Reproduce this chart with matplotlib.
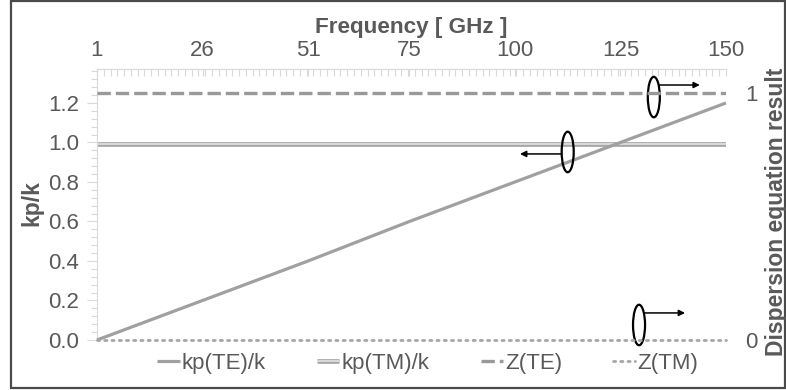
import numpy as np
import matplotlib
matplotlib.use("Agg")
import matplotlib.pyplot as plt
from matplotlib.patches import Ellipse, Rectangle
from matplotlib.ticker import FixedLocator, MultipleLocator

plt.rcParams["font.family"] = ["Liberation Sans", "DejaVu Sans"]

# ---- data -------------------------------------------------------------
freq = [1, 26, 51, 75, 100, 125, 150]                 # GHz
kp_te = [0.0, 0.2, 0.4, 0.6, 0.8, 1.0, 1.2]            # kp(TE)/k
kp_tm = [0.99, 0.99, 0.99, 0.99, 0.99, 0.99, 0.99]     # kp(TM)/k
z_te = [1, 1, 1, 1, 1, 1, 1]                           # dispersion result, TE
z_tm = [0, 0, 0, 0, 0, 0, 0]                           # dispersion result, TM
x_ticklabels = ["1", "26", "51", "75", "100", "125", "150"]
left_ticks = [0.0, 0.2, 0.4, 0.6, 0.8, 1.0, 1.2]
right_ticks = [0, 1]

TXT = "#595959"
LINE = "#a0a0a0"
AX = "#d9d9d9"

W, H = 786, 390
fig = plt.figure(figsize=(W / 100, H / 100), dpi=100)

def px_box(x0, y0, x1, y1):
    return [x0 / W, 1 - y1 / H, (x1 - x0) / W, (y1 - y0) / H]

ax = fig.add_axes(px_box(97, 69, 726, 340))
ax2 = ax.twinx()

# left axis series
l_te, = ax.plot(freq, kp_te, color=LINE, lw=2.3, solid_capstyle="butt",
                zorder=3, clip_on=False)
l_tm_out, = ax.plot(freq, kp_tm, color="#a6a6a6", lw=3.4, solid_capstyle="butt", zorder=2)
l_tm_in, = ax.plot(freq, kp_tm, color="#dedede", lw=1.3, solid_capstyle="butt", zorder=2)

# right axis series
l_zte, = ax2.plot(freq, z_te, color="#999999", lw=2.4, dashes=(4.0, 1.5),
                  dash_capstyle="butt", zorder=3)
l_ztm, = ax2.plot(freq, z_tm, color="#a6a6a6", lw=2.0, dashes=(0.8, 1.8),
                  dash_capstyle="round", zorder=3, clip_on=False)

ax.set_xlim(1, 150)
ax.set_ylim(0, 1.372)
ax2.set_ylim(0, 1.097)

# frequency axis on top
ax.xaxis.tick_top()
ax.xaxis.set_label_position("top")
ax.set_xticks(freq)
ax.set_xticklabels(x_ticklabels)
ax.xaxis.set_minor_locator(FixedLocator(np.linspace(1, 150, 94)))
ax.tick_params(axis="x", which="both", direction="in", length=5, width=0.8,
               color=AX, labelsize=16, labelcolor=TXT, pad=6)
ax.set_xlabel("Frequency [ GHz ]", fontsize=16.2, fontweight="bold",
              color=TXT, labelpad=5)

# left axis
ax.set_yticks(left_ticks)
ax.set_yticklabels([f"{v:.1f}" for v in left_ticks])
ax.yaxis.set_minor_locator(MultipleLocator(0.04))
ax.tick_params(axis="y", which="major", direction="out", length=7, width=0.8,
               color=AX, labelsize=16, labelcolor=TXT, pad=6)
ax.tick_params(axis="y", which="minor", direction="out", length=4, width=0.8,
               color=AX)
ax.set_ylabel("kp/k", fontsize=16.5, fontweight="bold", color=TXT)
ax.yaxis.set_label_coords((43 - 97) / 629, (340 - 203) / 271)

# right axis
ax2.set_yticks(right_ticks)
ax2.set_yticklabels([str(v) for v in right_ticks])
ax2.tick_params(axis="y", length=0, labelsize=16, labelcolor=TXT, pad=14)
fig.text(776 / W, 1 - 212 / H, "Dispersion equation result", rotation=90,
         ha="center", va="center", fontsize=16.5, fontweight="bold", color=TXT)

for a in (ax, ax2):
    for s in ("right", "bottom"):
        a.spines[s].set_visible(False)
ax2.spines["left"].set_visible(False)
ax2.spines["top"].set_visible(False)
ax.spines["left"].set_color(AX)
ax.spines["top"].set_color(AX)
ax.spines["left"].set_linewidth(0.8)
ax.spines["top"].set_linewidth(0.8)

# ellipse + arrow markers showing which axis each curve belongs to
def axis_marker(cx, cy, direction, x_end, y_arrow):
    e = Ellipse((cx, cy), width=2.85, height=0.205, transform=ax.transData,
                fill=False, edgecolor="black", lw=1.6, zorder=6, clip_on=False)
    ax.add_patch(e)
    ax.annotate("", xy=(x_end, y_arrow), xytext=(cx + direction * 1.4, y_arrow),
                xycoords="data",
                arrowprops=dict(arrowstyle="-|>", color="black", lw=1.1,
                                mutation_scale=9, shrinkA=0, shrinkB=0),
                zorder=6, annotation_clip=False)

axis_marker(132.9, 1.23, 1, 143.8, 1.291)
axis_marker(112.5, 0.952, -1, 101.2, 0.942)
axis_marker(129.4, 0.076, 1, 140.3, 0.137)

# legend along the bottom
leg = fig.legend([l_te, (l_tm_out, l_tm_in), l_zte, l_ztm],
                 ["kp(TE)/k", "kp(TM)/k", "Z(TE)", "Z(TM)"],
                 loc="center", bbox_to_anchor=(428 / W, 1 - 363 / H),
                 ncol=4, frameon=False, fontsize=16, handlelength=1.0,
                 handletextpad=0.1, columnspacing=2.3, borderpad=0)
for t in leg.get_texts():
    t.set_color(TXT)

# outer frame
fig.patches.append(Rectangle((11 / W, 2 / H), 774 / W, 387 / H,
                             transform=fig.transFigure, fill=False,
                             edgecolor="#4a4a4a", lw=1.6))

fig.savefig("out.png", dpi=100)
